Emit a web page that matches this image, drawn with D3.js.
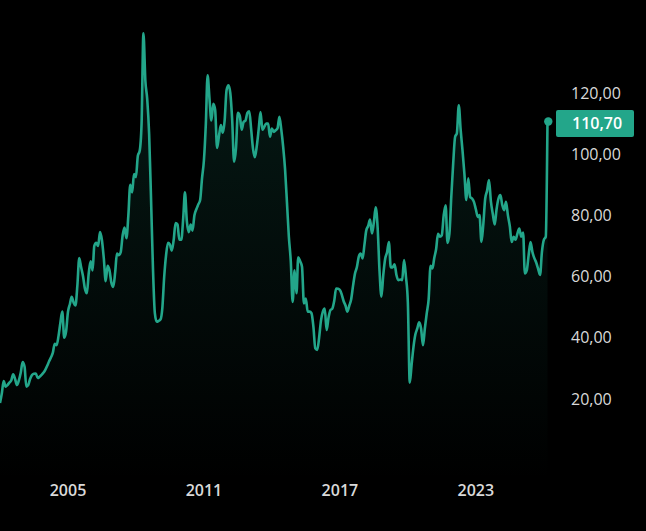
<!DOCTYPE html>
<html>
<head>
<meta charset="utf-8">
<script src="https://cdn.jsdelivr.net/npm/d3@7"></script>
<style>
  html, body { margin: 0; padding: 0; background: #000; }
  svg { display: block; }
</style>
</head>
<body>
<svg id="chart" width="646" height="531"></svg>
<script>
// monthly closes, Jan 2002 .. Mar 2026 (one row per year)
const startMonth = new Date(2002, 0, 1);
const closes = [
  18.6, 22, 25.8, 24, 24.5, 25.3, 26, 28, 26.5, 24.5, 26, 28.5,          // 2002
  32, 30.5, 24, 24.5, 26.5, 27.8, 28.2, 28.3, 26.8, 27.2, 27.8, 28.5,    // 2003
  29.5, 30.8, 32.2, 33.5, 35, 38, 37.5, 40.5, 45, 48.5, 40, 42,          // 2004
  48.5, 51, 53.4, 51.5, 50.5, 57, 66, 63, 60, 56, 54.5, 61,              // 2005
  65, 62, 70, 71, 70, 74.5, 72, 66, 58.5, 63.5, 62, 58,                  // 2006
  56.6, 61.5, 67.5, 67, 68, 73.5, 76, 72.5, 80, 90, 87.5, 93.5,          // 2007
  92.5, 99.5, 101, 110, 139.5, 124, 118, 106.5, 85, 63, 48, 45.2,        // 2008
  45.5, 46, 49.5, 60, 67, 71, 70.5, 68.5, 72, 77.5, 77, 72,              // 2009
  72, 79, 87.5, 78, 74.5, 77, 75, 80, 82, 83.5, 85, 92,                  // 2010
  98, 110, 125.8, 118, 111, 116.5, 114.5, 102, 106, 109.5, 107, 111,     // 2011
  121, 122.5, 120, 111, 97.5, 102, 113.5, 112.5, 108, 110.5, 111, 113.5, // 2012
  114, 108, 102, 99, 102.5, 108, 113.8, 108, 109, 110, 110, 105.7,       // 2013
  108.4, 107.3, 107.8, 108.4, 112.2, 108, 102.5, 95, 84, 73, 65, 51.7,   // 2014
  62, 54.5, 66.3, 65, 63.2, 51.2, 52.8, 48.5, 48.5, 48, 43.5, 36.5,      // 2015
  36, 40, 45.5, 48.5, 49.5, 42.5, 46.5, 49, 49.5, 52, 56.1, 56,          // 2016
  55.6, 54, 52, 50.5, 48.5, 50.5, 52.5, 57, 61, 63, 66.5, 67.5,          // 2017
  65.9, 70.5, 75, 76.5, 78.6, 74.1, 77.5, 82.6, 76, 62, 53.4, 60.5,      // 2018
  65.9, 68, 71.3, 63, 63, 64, 60.5, 58.8, 59, 58.8, 65.4, 60,            // 2019
  51.5, 25.3, 31, 37, 41, 43, 45, 43, 37.5, 43, 48, 52.5,                // 2020
  63.5, 62.6, 66, 69, 74, 73, 73.5, 80, 83.3, 71, 74, 86,                // 2021
  97, 105.7, 106.8, 116, 108, 101, 93.5, 85, 92.1, 86, 85.5, 84.4,       // 2022
  82, 79.5, 80.1, 71.3, 77, 85.5, 88, 91.5, 84.5, 80.5, 77, 82,          // 2023
  85.5, 86.6, 83.5, 81.7, 84.4, 80, 76.5, 71.3, 73, 72, 74, 75.7,        // 2024
  73, 74.4, 61, 62, 67, 71.3, 68, 66, 64.5, 62.5, 60.5, 68,              // 2025
  72, 73, 110.7                                                          // 2026
];
const xTickYears = [2005, 2011, 2017, 2023];
const yTicks = [20, 40, 60, 80, 100, 120];

const data = closes.map((v, i) => ({ date: d3.timeMonth.offset(startMonth, i), value: v }));

const svg = d3.select('#chart');
const width = 646, height = 531;
const lineColor = '#23a68a';

const x = d3.scaleTime()
  .domain([data[0].date, data[data.length - 1].date])
  .range([0, 547.5]);

const y = d3.scaleLinear()
  .domain([0, 120])
  .range([460, 93]);

const fmt = d3.formatLocale({ decimal: ',', thousands: '.', grouping: [3], currency: ['', ''] }).format(',.2f');

// Gradient under the line
const defs = svg.append('defs');
const grad = defs.append('linearGradient')
  .attr('id', 'fillGrad')
  .attr('x1', 0).attr('y1', 0).attr('x2', 0).attr('y2', 1);
grad.append('stop').attr('offset', '0%').attr('stop-color', lineColor).attr('stop-opacity', 0.16);
grad.append('stop').attr('offset', '100%').attr('stop-color', lineColor).attr('stop-opacity', 0.0);

svg.append('rect').attr('width', width).attr('height', height).attr('fill', '#000');

const area = d3.area()
  .x(d => x(d.date))
  .y0(480)
  .y1(d => y(d.value))
  .curve(d3.curveMonotoneX);

const line = d3.line()
  .x(d => x(d.date))
  .y(d => y(d.value))
  .curve(d3.curveMonotoneX);

svg.append('path')
  .datum(data)
  .attr('d', area)
  .attr('fill', 'url(#fillGrad)');

svg.append('path')
  .datum(data)
  .attr('d', line)
  .attr('fill', 'none')
  .attr('stroke', lineColor)
  .attr('stroke-width', 2.6)
  .attr('stroke-linejoin', 'round');

// Last point marker
const last = data[data.length - 1];
svg.append('circle')
  .attr('cx', x(last.date) + 0.8)
  .attr('cy', y(last.value))
  .attr('r', 4.2)
  .attr('fill', lineColor);

// Y axis labels (right side)
svg.append('g')
  .selectAll('text')
  .data(yTicks)
  .enter()
  .append('text')
  .attr('x', 571)
  .attr('y', d => y(d))
  .attr('dy', '0.36em')
  .attr('fill', '#d9d9d9')
  .style('font-family', '"Open Sans", "Noto Sans", sans-serif')
  .style('font-size', '16px')
  .text(d => fmt(d));

// Last value tag
const tag = svg.append('g').attr('transform', `translate(556, ${y(last.value) - 11.5})`);
tag.append('rect')
  .attr('width', 78)
  .attr('height', 27)
  .attr('rx', 2)
  .attr('fill', lineColor);
tag.append('text')
  .attr('x', 16)
  .attr('y', 13.5)
  .attr('dy', '0.36em')
  .attr('fill', '#fff')
  .style('font-family', '"Open Sans", "Noto Sans", sans-serif')
  .style('font-size', '16px')
  .style('font-weight', '600')
  .text(fmt(last.value));

// X axis labels
svg.append('g')
  .selectAll('text')
  .data(xTickYears)
  .enter()
  .append('text')
  .attr('x', d => x(new Date(d, 0, 1)))
  .attr('y', 490)
  .attr('dy', '0.36em')
  .attr('text-anchor', 'middle')
  .attr('fill', '#d9d9d9')
  .style('font-family', '"Open Sans", "Noto Sans", sans-serif')
  .style('font-size', '16px')
  .style('font-weight', '600')
  .text(d => d);
</script>
</body>
</html>
